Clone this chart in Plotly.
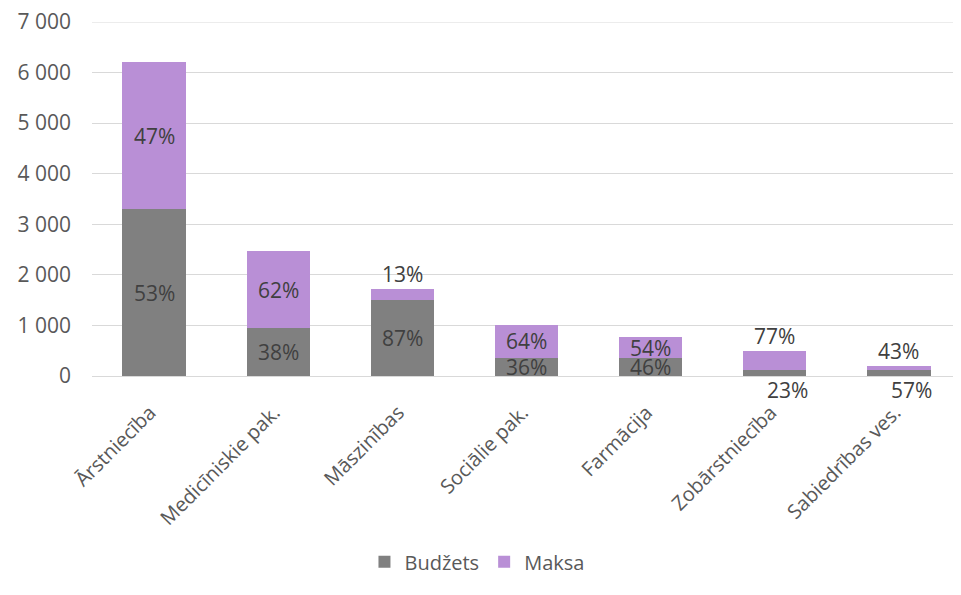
import plotly.graph_objects as go

categories = ["Ārstniecība", "Medicīniskie pak.", "Māszinības", "Sociālie pak.",
              "Farmācija", "Zobārstniecība", "Sabiedrības ves."]
budzets = [3300, 940, 1500, 360, 355, 115, 115]
maksa = [2900, 1530, 220, 650, 415, 385, 87]
# where the Excel data labels sit
maksa_label_pos = ["in", "in", "above", "in", "in", "above", "above"]
budzets_label_pos = ["in", "in", "in", "in", "in", "below", "below"]
y_ticks = [0, 1000, 2000, 3000, 4000, 5000, 6000, 7000]

GREY = "#808080"
PURPLE = "#B98FD6"
GRID = "#D9D9D9"
FONT = "Open Sans"

fig = go.Figure()
fig.add_trace(go.Bar(x=categories, y=budzets, name="Budžets", marker_color=GREY,
                     marker_line_width=0, hoverinfo="x+y"))
fig.add_trace(go.Bar(x=categories, y=maksa, name="Maksa", marker_color=PURPLE,
                     marker_line_width=0, hoverinfo="x+y"))

annotations = []
for cat, b, m, mp, bp in zip(categories, budzets, maksa, maksa_label_pos, budzets_label_pos):
    total = b + m
    b_pct = f"{round(100 * b / total)}%"
    m_pct = f"{round(100 * m / total)}%"
    if bp == "in":
        annotations.append(dict(x=cat, y=b / 2, text=b_pct, showarrow=False))
    else:
        annotations.append(dict(x=cat, y=0, text=b_pct, showarrow=False,
                                yanchor="top", yshift=2, xanchor="right", xshift=35))
    if mp == "in":
        annotations.append(dict(x=cat, y=b + m / 2, text=m_pct, showarrow=False))
    else:
        annotations.append(dict(x=cat, y=total, text=m_pct, showarrow=False,
                                yanchor="bottom", yshift=-1))
for a in annotations:
    a["font"] = dict(family=FONT, size=21, color="#404040")

# top gridline sits on the plot edge, plotly skips it
fig.add_shape(type="line", xref="paper", x0=0, x1=1, y0=max(y_ticks), y1=max(y_ticks),
              line=dict(color=GRID, width=1), layer="below")

fig.update_layout(
    barmode="stack",
    bargap=0.49,
    width=953,
    height=587,
    margin=dict(l=84, r=0, t=14, b=219),
    paper_bgcolor="white",
    plot_bgcolor="white",
    separators=". ",
    font=dict(family=FONT, size=20, color="#595959"),
    annotations=annotations,
    xaxis=dict(tickangle=-45, showgrid=False, showline=False, ticks="",
               tickfont=dict(size=20), ticklabelstandoff=20, ticklabelshift=-4,
               automargin=False),
    yaxis=dict(range=[0, max(y_ticks)], tickmode="array", tickvals=y_ticks,
               tickformat=",d", showgrid=True, gridcolor=GRID, gridwidth=1,
               zeroline=True, zerolinecolor=GRID, zerolinewidth=1,
               ticks="", ticklabelstandoff=20, tickfont=dict(size=21),
               ticklabeloverflow="allow", automargin=False),
    legend=dict(orientation="h", x=0.443, xanchor="center",
                y=-0.525, yanchor="middle",
                font=dict(size=20, color="#595959"), itemwidth=30,
                traceorder="normal"),
)

fig.write_html("out.html")
